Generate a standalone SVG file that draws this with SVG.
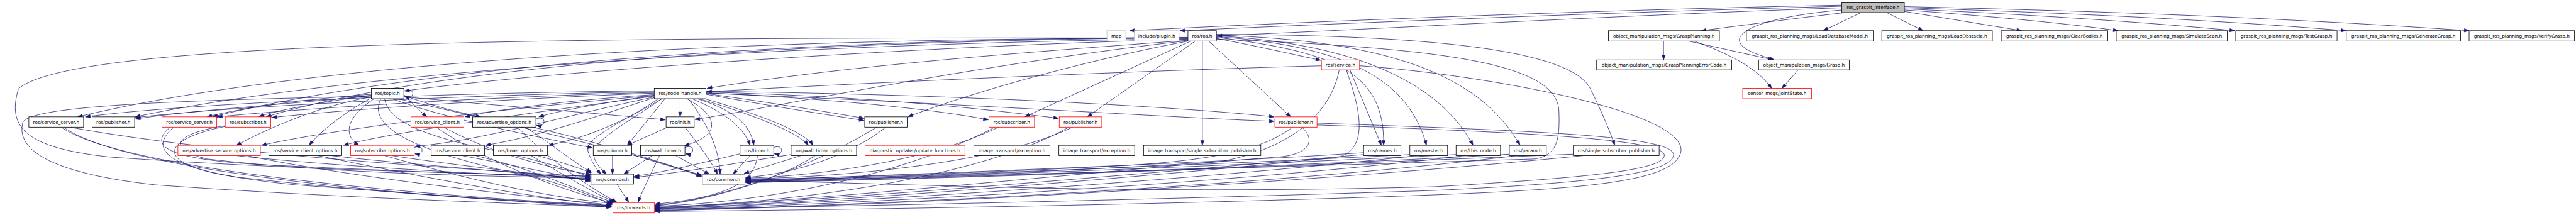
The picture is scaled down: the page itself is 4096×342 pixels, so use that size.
<svg xmlns="http://www.w3.org/2000/svg" width="4096" height="342" viewBox="0 0 4096 342">
<style>
.nd rect{fill:#ffffff;stroke:#000000;stroke-width:1.4}
.rd rect{stroke:#ff0000}
.gy rect{stroke:#bfbfbf}
.rt rect{fill:#bfbfbf}
text{font-family:"DejaVu Sans","Liberation Sans",sans-serif;font-size:12.6px;text-anchor:middle;fill:#000000}
#connectors path{fill:none;stroke:#191970;stroke-width:1.3;marker-end:url(#ah)}
</style>
<defs>
<marker id="ah" markerUnits="userSpaceOnUse" markerWidth="14" markerHeight="10" refX="13" refY="5" orient="auto" overflow="visible">
<path d="M0,0.4 L13,5 L0,9.6 z" fill="#191970" stroke="#191970" stroke-width="1"/>
</marker>
</defs>
<rect x="0" y="0" width="4096" height="342" fill="#ffffff"/>
<g transform="scale(0.58808)">
<g id="connectors">
<path d="M4980,14 C4400,25 3600,55 3054,83"/>
<path d="M4980,17 C4400,32 3700,60 3190,83"/>
<path d="M4980,21 C4300,45 3700,80 3291,97"/>
<path d="M4990,34 C4850,50 4700,70 4600,83"/>
<path d="M5032,34 L4930,83"/>
<path d="M5101,34 L5200,83"/>
<path d="M5149,31 L5466,83"/>
<path d="M5149,27 C5400,45 5600,65 5727,83"/>
<path d="M5149,24 C5500,40 5800,60 6042,83"/>
<path d="M5149,21 C5600,35 6000,55 6343,83"/>
<path d="M5149,18 C5700,30 6200,50 6676,83"/>
<path d="M4980,27 C4780,45 4700,80 4703,110 C4706,135 4760,150 4797,162"/>
<path d="M4498,111 L4498,162"/>
<path d="M4565,111 L4794,162"/>
<path d="M4580,111 C4660,140 4750,180 4790,239"/>
<path d="M4862,189 L4818,239"/>
<path d="M3251,111 L3251,393"/>
<path d="M3289,104 C3400,125 3500,148 3571,163"/>
<path d="M3268,111 L3490,316"/>
<path d="M3289,101 C3600,140 3745,190 3741,393"/>
<path d="M3289,99 C3650,125 3810,220 3857,393"/>
<path d="M3289,97 C3700,120 3900,240 3983,393"/>
<path d="M3289,95 C3750,110 4000,200 4110,393"/>
<path d="M3289,93 C3900,95 4250,140 4300,240 C4330,300 4355,360 4366,393"/>
<path d="M3212,109 C2800,140 2300,175 1912,239"/>
<path d="M3212,106 C2500,125 1500,190 1094,246"/>
<path d="M3212,104 C2200,100 900,150 210,316"/>
<path d="M3212,105 C2300,115 1000,180 366,316"/>
<path d="M3212,110 C2600,180 2100,290 1879,323"/>
<path d="M3214,111 C2900,170 2600,260 2455,316"/>
<path d="M3220,111 L2771,316"/>
<path d="M3232,111 L2940,316"/>
<path d="M3212,103 C1500,100 200,110 50,240 C20,340 60,400 300,425 C800,460 1300,470 1596,476"/>
<path d="M3212,102 C2200,110 1200,170 720,316"/>
<path d="M3212,101 C2300,105 1200,160 575,316"/>
<path d="M1004,262 C850,290 720,350 639,393"/>
<path d="M1000,267 C940,300 870,350 836,393"/>
<path d="M1012,267 C930,320 930,370 971,393"/>
<path d="M1004,255 C800,270 640,295 560,316"/>
<path d="M1004,257 C850,280 740,300 700,316"/>
<path d="M1004,259 C800,280 500,300 366,322"/>
<path d="M1092,258 C1150,280 1220,300 1300,316"/>
<path d="M1092,256 C1110,275 1130,295 1154,316"/>
<path d="M1092,262 C1400,290 1650,310 1799,324"/>
<path d="M1060,267 C1200,320 1450,370 1602,400"/>
<path d="M1040,267 C1050,330 1150,370 1350,410 C1480,440 1560,465 1596,479"/>
<path d="M1030,267 C980,360 1200,430 1450,480 C1560,510 1620,540 1655,553"/>
<path d="M1075,267 C1350,330 1750,420 1897,476"/>
<path d="M1004,260 C600,270 90,280 62,330 C40,410 150,470 420,500 C900,535 1400,550 1655,560"/>
<path d="M1092,246 C1124,234 1124,270 1094,262"/>
<path d="M1769,246 C1200,250 500,280 231,316"/>
<path d="M1769,248 C1200,258 600,290 366,318"/>
<path d="M1769,250 C1300,262 800,295 588,316"/>
<path d="M1769,252 C1300,270 900,300 735,318"/>
<path d="M1769,256 C1550,270 1350,295 1257,316"/>
<path d="M1769,258 C1620,280 1510,300 1457,316"/>
<path d="M1769,258 C1300,300 900,350 707,393"/>
<path d="M1769,260 C1400,310 1050,360 929,393"/>
<path d="M1769,262 C1500,320 1300,380 1122,396"/>
<path d="M1769,264 C1600,320 1450,370 1313,393"/>
<path d="M1790,267 C1700,320 1600,370 1483,393"/>
<path d="M1798,267 L1696,393"/>
<path d="M1839,267 L1839,316"/>
<path d="M1857,267 C1955,320 1940,370 1850,394"/>
<path d="M1871,267 C1950,300 2010,340 2028,393"/>
<path d="M1885,267 C1990,300 2030,340 2038,393"/>
<path d="M1890,267 C2000,300 2150,350 2186,393"/>
<path d="M1905,267 C2020,300 2170,350 2198,393"/>
<path d="M1861,267 C1910,330 1945,400 1947,471"/>
<path d="M1909,255 C2100,290 2250,312 2336,326"/>
<path d="M1909,253 C2100,280 2250,305 2336,320"/>
<path d="M1909,251 C2300,270 2550,300 2672,324"/>
<path d="M1909,249 C2400,262 2700,300 2862,320"/>
<path d="M1909,247 C2600,255 3200,290 3445,316"/>
<path d="M1909,252 C2600,280 3200,320 3445,328"/>
<path d="M1780,267 C1690,330 1580,370 1590,410 C1600,440 1615,460 1625,471"/>
<path d="M1790,267 C1700,330 1600,380 1605,420 C1610,445 1630,462 1640,471"/>
<path d="M1805,344 L1696,393"/>
<path d="M1852,344 C1880,380 1920,430 1940,471"/>
<path d="M1656,421 L1656,471"/>
<path d="M1708,418 C1780,440 1850,462 1897,473"/>
<path d="M1763,421 L1686,471"/>
<path d="M1783,421 C1760,470 1740,510 1725,547"/>
<path d="M1827,421 L1918,471"/>
<path d="M1852,399 C1880,388 1880,422 1854,416"/>
<path d="M2028,421 L1982,471"/>
<path d="M2001,416 C1900,440 1800,465 1715,477"/>
<path d="M2048,421 C2040,500 1950,535 1771,552"/>
<path d="M2092,399 C2120,388 2120,422 2094,416"/>
<path d="M2165,421 L2012,469"/>
<path d="M2139,418 C2000,440 1850,466 1715,480"/>
<path d="M2204,421 C2100,490 1900,545 1771,557"/>
<path d="M1668,498 L1700,547"/>
<path d="M189,344 C600,420 1300,460 1596,478"/>
<path d="M166,344 C300,440 900,515 1652,556"/>
<path d="M172,344 C320,450 920,520 1652,560"/>
<path d="M460,344 C400,395 450,430 700,445 C1100,465 1400,473 1596,480"/>
<path d="M470,344 C380,420 500,470 800,500 C1200,530 1500,550 1653,557"/>
<path d="M609,340 C480,360 440,400 560,430 C900,470 1300,476 1596,482"/>
<path d="M609,342 C420,380 420,450 650,480 C1000,520 1400,545 1653,559"/>
<path d="M668,421 C900,470 1300,520 1654,554"/>
<path d="M640,421 C900,450 1300,470 1596,484"/>
<path d="M896,421 C1100,445 1400,465 1596,486"/>
<path d="M860,421 C1100,470 1400,530 1654,557"/>
<path d="M1060,421 C1250,450 1450,470 1596,488"/>
<path d="M1040,421 C1250,480 1450,530 1655,550"/>
<path d="M1286,421 C1450,460 1550,510 1660,548"/>
<path d="M1250,421 C1400,450 1500,470 1596,490"/>
<path d="M1454,421 C1520,440 1570,455 1598,468"/>
<path d="M1436,421 C1520,470 1600,520 1664,547"/>
<path d="M1200,344 C1300,400 1450,450 1597,472"/>
<path d="M1180,344 C1300,430 1500,510 1658,549"/>
<path d="M1420,344 C1480,380 1550,440 1600,466"/>
<path d="M1400,344 C1470,420 1580,500 1668,547"/>
<path d="M1440,344 C1600,380 1800,440 1897,478"/>
<path d="M1449,322 C1478,310 1478,346 1451,339"/>
<path d="M1120,399 C1148,388 1148,422 1122,416"/>
<path d="M2395,344 C2300,420 2150,470 2016,480"/>
<path d="M2370,344 C2200,450 1950,540 1771,555"/>
<path d="M2700,344 C2500,440 2200,476 2016,482"/>
<path d="M2690,344 C2450,470 2100,545 1771,558"/>
<path d="M2900,344 C2700,440 2300,478 2016,484"/>
<path d="M2890,344 C2650,480 2150,550 1771,560"/>
<path d="M3495,344 C3420,400 3300,435 3000,450 C2600,470 2200,482 2016,486"/>
<path d="M3520,344 C3560,380 3540,420 3450,425 C3000,460 2200,545 1771,562"/>
<path d="M3561,333 C4200,355 4530,370 4525,420 C4520,470 4300,495 3880,515 C3000,545 2000,563 1771,566"/>
<path d="M3561,338 C4200,360 4500,380 4500,420 C4500,460 4300,480 3880,505 C3000,530 2300,490 2016,489"/>
<path d="M3687,413 C3300,440 2500,470 2016,488"/>
<path d="M3687,418 C3200,460 2300,540 1771,563"/>
<path d="M3812,418 C3400,440 2600,472 2016,490"/>
<path d="M3830,421 C3300,480 2400,545 1771,565"/>
<path d="M3937,418 C3500,440 2700,474 2016,492"/>
<path d="M3960,421 C3400,490 2400,550 1771,567"/>
<path d="M4081,417 C3700,440 2800,476 2016,493"/>
<path d="M4100,421 C3500,495 2500,552 1771,569"/>
<path d="M4254,417 C3800,435 2900,476 2016,494"/>
<path d="M4280,421 C3800,470 2700,550 1771,570"/>
<path d="M3621,189 C3600,300 3500,400 3300,437 C2800,470 2300,483 2016,487"/>
<path d="M3640,189 C3680,300 3700,400 3620,425 C3300,460 2300,548 1771,564"/>
<path d="M3676,178 C4000,200 4560,300 4545,410 C4530,490 4300,510 3880,527 C3000,560 2000,570 1771,572"/>
<path d="M3650,189 L3735,393"/>
<path d="M3573,178 C3300,185 2600,210 1911,248"/>
<path d="M3289,106 C3900,130 4210,170 4215,300 C4218,380 4210,420 4150,430 C3500,450 2500,480 2016,491"/>
</g>
<g id="n_ros_graspit_interface" class="nd rt"><rect x="4980" y="6" width="169" height="28"/><text x="5064.5" y="24.5">ros_graspit_interface.h</text></g>
<g id="n_map" class="nd gy"><rect x="2993" y="83" width="51" height="28"/><text x="3018.5" y="101.5">map</text></g>
<g id="n_plugin" class="nd gy"><rect x="3067" y="83" width="121" height="28"/><text x="3127.5" y="101.5">include/plugin.h</text></g>
<g id="n_ros_ros" class="nd"><rect x="3212" y="83" width="77" height="28"/><text x="3250.5" y="101.5">ros/ros.h</text></g>
<g id="n_graspplanning" class="nd"><rect x="4349" y="83" width="300" height="28"/><text x="4499" y="101.5">object_manipulation_msgs/GraspPlanning.h</text></g>
<g id="n_loaddatabasemodel" class="nd"><rect x="4722" y="83" width="343" height="28"/><text x="4893.5" y="101.5">graspit_ros_planning_msgs/LoadDatabaseModel.h</text></g>
<g id="n_loadobstacle" class="nd"><rect x="5088" y="83" width="299" height="28"/><text x="5237.5" y="101.5">graspit_ros_planning_msgs/LoadObstacle.h</text></g>
<g id="n_clearbodies" class="nd"><rect x="5411" y="83" width="288" height="28"/><text x="5555" y="101.5">graspit_ros_planning_msgs/ClearBodies.h</text></g>
<g id="n_simulatescan" class="nd"><rect x="5722" y="83" width="300" height="28"/><text x="5872" y="101.5">graspit_ros_planning_msgs/SimulateScan.h</text></g>
<g id="n_testgrasp" class="nd"><rect x="6045" y="83" width="274" height="28"/><text x="6182" y="101.5">graspit_ros_planning_msgs/TestGrasp.h</text></g>
<g id="n_generategrasp" class="nd"><rect x="6344" y="83" width="309" height="28"/><text x="6498.5" y="101.5">graspit_ros_planning_msgs/GenerateGrasp.h</text></g>
<g id="n_verifygrasp" class="nd"><rect x="6676" y="83" width="285" height="28"/><text x="6818.5" y="101.5">graspit_ros_planning_msgs/VerifyGrasp.h</text></g>
<g id="n_ros_service" class="nd rd"><rect x="3573" y="162" width="103" height="27"/><text x="3624.5" y="180">ros/service.h</text></g>
<g id="n_gp_errorcode" class="nd"><rect x="4317" y="162" width="365" height="27"/><text x="4499.5" y="180">object_manipulation_msgs/GraspPlanningErrorCode.h</text></g>
<g id="n_grasp" class="nd"><rect x="4755" y="162" width="245" height="27"/><text x="4877.5" y="180">object_manipulation_msgs/Grasp.h</text></g>
<g id="n_ros_topic" class="nd"><rect x="1004" y="239" width="88" height="28"/><text x="1048" y="257.5">ros/topic.h</text></g>
<g id="n_ros_node_handle" class="nd"><rect x="1769" y="239" width="140" height="28"/><text x="1839" y="257.5">ros/node_handle.h</text></g>
<g id="n_jointstate" class="nd rd"><rect x="4712" y="239" width="186" height="28"/><text x="4805" y="257.5">sensor_msgs/JointState.h</text></g>
<g id="n_service_server_1" class="nd"><rect x="78" y="316" width="148" height="28"/><text x="152" y="334.5">ros/service_server.h</text></g>
<g id="n_publisher_1" class="nd"><rect x="249" y="316" width="115" height="28"/><text x="306.5" y="334.5">ros/publisher.h</text></g>
<g id="n_service_server_2" class="nd rd"><rect x="438" y="316" width="148" height="28"/><text x="512" y="334.5">ros/service_server.h</text></g>
<g id="n_subscriber_1" class="nd rd"><rect x="609" y="316" width="123" height="28"/><text x="670.5" y="334.5">ros/subscriber.h</text></g>
<g id="n_service_client_1" class="nd rd"><rect x="1111" y="316" width="143" height="28"/><text x="1182.5" y="334.5">ros/service_client.h</text></g>
<g id="n_advertise_options" class="nd"><rect x="1278" y="316" width="171" height="28"/><text x="1363.5" y="334.5">ros/advertise_options.h</text></g>
<g id="n_ros_init" class="nd"><rect x="1801" y="316" width="76" height="28"/><text x="1839" y="334.5">ros/init.h</text></g>
<g id="n_publisher_2" class="nd"><rect x="2338" y="316" width="115" height="28"/><text x="2395.5" y="334.5">ros/publisher.h</text></g>
<g id="n_subscriber_2" class="nd rd"><rect x="2674" y="316" width="123" height="28"/><text x="2735.5" y="334.5">ros/subscriber.h</text></g>
<g id="n_publisher_3" class="nd rd"><rect x="2864" y="316" width="115" height="28"/><text x="2921.5" y="334.5">ros/publisher.h</text></g>
<g id="n_publisher_4" class="nd rd"><rect x="3447" y="316" width="114" height="28"/><text x="3504" y="334.5">ros/publisher.h</text></g>
<g id="n_adv_service_options" class="nd rd"><rect x="481" y="393" width="223" height="28"/><text x="592.5" y="411.5">ros/advertise_service_options.h</text></g>
<g id="n_service_client_options" class="nd"><rect x="727" y="393" width="197" height="28"/><text x="825.5" y="411.5">ros/service_client_options.h</text></g>
<g id="n_subscribe_options" class="nd rd"><rect x="948" y="393" width="172" height="28"/><text x="1034" y="411.5">ros/subscribe_options.h</text></g>
<g id="n_service_client_2" class="nd"><rect x="1166" y="393" width="144" height="28"/><text x="1238" y="411.5">ros/service_client.h</text></g>
<g id="n_timer_options" class="nd"><rect x="1334" y="393" width="146" height="28"/><text x="1407" y="411.5">ros/timer_options.h</text></g>
<g id="n_spinner" class="nd"><rect x="1604" y="393" width="104" height="28"/><text x="1656" y="411.5">ros/spinner.h</text></g>
<g id="n_wall_timer" class="nd"><rect x="1732" y="393" width="120" height="28"/><text x="1792" y="411.5">ros/wall_timer.h</text></g>
<g id="n_timer" class="nd"><rect x="2001" y="393" width="91" height="28"/><text x="2046.5" y="411.5">ros/timer.h</text></g>
<g id="n_wall_timer_options" class="nd"><rect x="2139" y="393" width="177" height="28"/><text x="2227.5" y="411.5">ros/wall_timer_options.h</text></g>
<g id="n_update_functions" class="nd rd"><rect x="2339" y="393" width="270" height="28"/><text x="2474" y="411.5">diagnostic_updater/update_functions.h</text></g>
<g id="n_it_exception_1" class="nd"><rect x="2633" y="393" width="206" height="28"/><text x="2736" y="411.5">image_transport/exception.h</text></g>
<g id="n_it_exception_2" class="nd"><rect x="2863" y="393" width="205" height="28"/><text x="2965.5" y="411.5">image_transport/exception.h</text></g>
<g id="n_it_single_sub_pub" class="nd"><rect x="3092" y="393" width="317" height="28"/><text x="3250.5" y="411.5">image_transport/single_subscriber_publisher.h</text></g>
<g id="n_names" class="nd"><rect x="3687" y="393" width="101" height="28"/><text x="3737.5" y="411.5">ros/names.h</text></g>
<g id="n_master" class="nd"><rect x="3812" y="393" width="102" height="28"/><text x="3863" y="411.5">ros/master.h</text></g>
<g id="n_this_node" class="nd"><rect x="3937" y="393" width="120" height="28"/><text x="3997" y="411.5">ros/this_node.h</text></g>
<g id="n_param" class="nd"><rect x="4081" y="393" width="100" height="28"/><text x="4131" y="411.5">ros/param.h</text></g>
<g id="n_single_sub_pub" class="nd"><rect x="4254" y="393" width="232" height="28"/><text x="4370" y="411.5">ros/single_subscriber_publisher.h</text></g>
<g id="n_common_1" class="nd"><rect x="1598" y="471" width="115" height="27"/><text x="1655.5" y="489">ros/common.h</text></g>
<g id="n_common_2" class="nd"><rect x="1899" y="471" width="115" height="27"/><text x="1956.5" y="489">ros/common.h</text></g>
<g id="n_forwards" class="nd rd"><rect x="1657" y="548" width="112" height="28"/><text x="1713" y="566.5">ros/forwards.h</text></g>
</g>
</svg>
